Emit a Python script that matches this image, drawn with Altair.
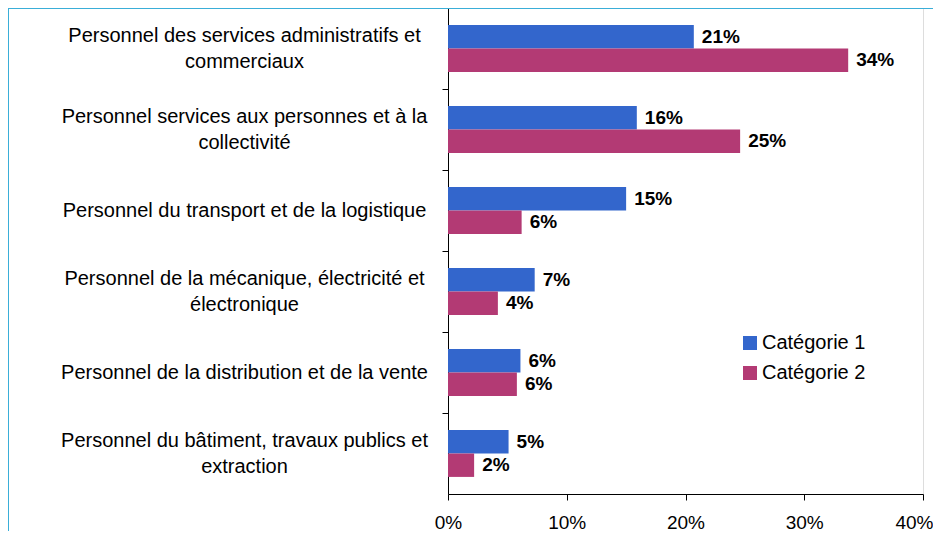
import altair as alt
import pandas as pd

categories = [
    "Personnel des services administratifs et|commerciaux",
    "Personnel services aux personnes et à la|collectivité",
    "Personnel du transport et de la logistique",
    "Personnel de la mécanique, électricité et|électronique",
    "Personnel de la distribution et de la vente",
    "Personnel du bâtiment, travaux publics et|extraction",
]
series = ["Catégorie 1", "Catégorie 2"]
cat1 = [0.207, 0.159, 0.150, 0.073, 0.061, 0.051]
cat2 = [0.337, 0.246, 0.062, 0.042, 0.058, 0.022]
colors = ["#3366CC", "#B33A74"]
x_ticks = [0, 0.1, 0.2, 0.3, 0.4]

rows = []
for c, a, b in zip(categories, cat1, cat2):
    rows.append({"category": c, "series": series[0], "value": a})
    rows.append({"category": c, "series": series[1], "value": b})
df = pd.DataFrame(rows)

FONT = "Liberation Sans"

x_enc = alt.X(
    "value:Q",
    scale=alt.Scale(domain=[0, 0.4], nice=False),
    axis=alt.Axis(
        title=None, format=".0%", values=x_ticks, grid=False,
        labelFontSize=19, labelFont=FONT, labelColor="#000000",
        tickSize=6, tickColor="#000000", domainColor="#000000",
        labelPadding=13, labelFlush=False,
        labelOffset={"condition": {"test": "datum.value >= 0.39", "value": -9},
                     "value": 0},
    ),
)
y_scale = alt.Scale(paddingInner=0, paddingOuter=0)
yoff = alt.YOffset("series:N", sort=series,
                   scale=alt.Scale(paddingInner=0, paddingOuter=0.73))

bars = alt.Chart(df).mark_bar().encode(
    x=x_enc,
    y=alt.Y(
        "category:N", sort=categories, scale=y_scale,
        axis=alt.Axis(
            title=None, orient="left", ticks=False, domain=True,
            domainColor="#000000",
            labelExpr="split(datum.label, '|')",
            labelAlign="center", labelBaseline="middle",
            labelPadding=204, labelFontSize=20, labelFont=FONT,
            labelColor="#000000", labelLineHeight=26, labelLimit=500,
            labelOffset={"condition": {"test": "indexof(datum.label, '|') >= 0",
                                       "value": -13},
                         "value": 0},
        ),
    ),
    yOffset=yoff,
    color=alt.Color(
        "series:N", sort=series,
        scale=alt.Scale(domain=series, range=colors),
        legend=alt.Legend(
            title=None, orient="none", legendX=292, legendY=325,
            symbolType="square", symbolSize=196, symbolStrokeWidth=0,
            labelFontSize=20, labelFont=FONT, labelColor="#000000",
            rowPadding=10, labelOffset=2, padding=0,
        ),
    ),
)

labels = alt.Chart(df).mark_text(
    align="left", baseline="middle", dx=8, fontSize=19,
    fontWeight="bold", font=FONT, color="#000000",
).encode(
    x=x_enc,
    y=alt.Y(
        "category:N", sort=categories, scale=y_scale,
        axis=alt.Axis(
            title=None, orient="left", labels=False, domain=False,
            ticks=True, bandPosition=0, tickExtra=True, tickSize=6,
            tickColor="#000000",
        ),
    ),
    yOffset=yoff,
    text=alt.Text("value:Q", format=".0%"),
)

frame_df = pd.DataFrame({"k": [0]})
frame_top = alt.Chart(frame_df).mark_rule(color="#3AAED8", strokeWidth=2).encode(
    x=alt.value(-440), x2=alt.value(490), y=alt.value(0)
)
frame_left = alt.Chart(frame_df).mark_rule(color="#3AAED8", strokeWidth=2).encode(
    x=alt.value(-440), y=alt.value(0), y2=alt.value(530)
)

chart = alt.layer(frame_top, frame_left, bars, labels).resolve_axis(
    y="independent"
).properties(
    width=475, height=486,
    autosize=alt.AutoSizeParams(type="none"),
    padding={"left": 440, "top": 0, "right": 10, "bottom": 37},
).configure_view(stroke=None).configure(background="#ffffff")

chart.save("out.html", embed_options={"renderer": "svg", "actions": False})
